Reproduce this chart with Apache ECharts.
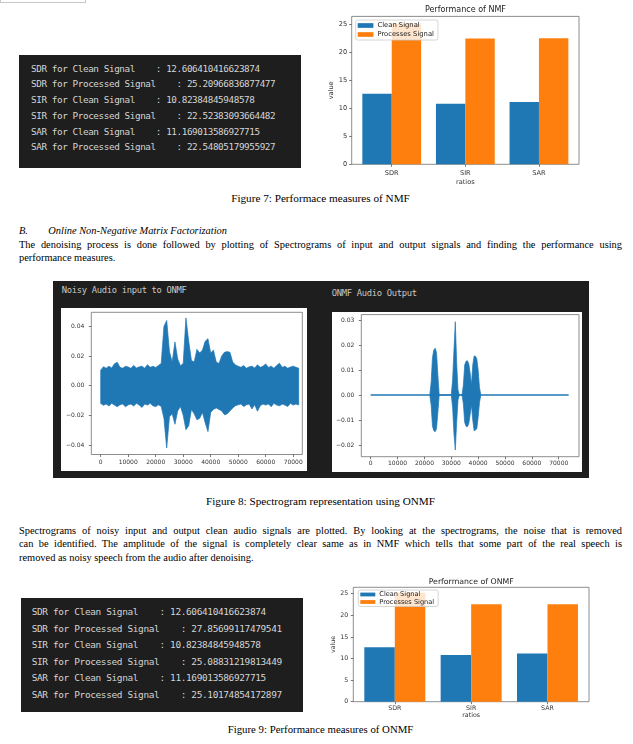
<!DOCTYPE html>
<html>
<head>
<meta charset="utf-8">
<script src="https://cdn.jsdelivr.net/npm/echarts@6/dist/echarts.min.js"></script>
<style>
html,body{margin:0;padding:0;background:#fff;}
#page{position:relative;width:633px;height:744px;overflow:hidden;background:#fff;}
.abs{position:absolute;}
.term{background:#1e1e1e;color:#d4d4d4;font-family:'DejaVu Sans Mono',monospace;white-space:pre;box-sizing:border-box;}
.serif{font-family:'Liberation Serif','Times New Roman',serif;color:#000;}
.cap{left:19px;width:603px;text-align:center;line-height:14px;white-space:nowrap;}
.jl{text-align:justify;text-align-last:justify;}
#chart{position:absolute;left:0;top:0;width:633px;height:744px;z-index:5;}
</style>
</head>
<body>
<div id="page">
  <div class="abs" style="left:0;top:0;width:84px;height:2px;border:1px solid #c8c8c8;border-top:none;"></div>
  <div id="term1" class="abs term" style="left:19px;top:55px;width:282px;height:113px;padding:5.5px 0 0 12px;font-size:9.3px;letter-spacing:-0.4px;line-height:15.8px;"></div>
  <div class="abs serif cap" style="top:191px;font-size:11.2px;">Figure 7: Performace measures of NMF</div>
  <div class="abs serif" style="left:19px;top:224px;width:603px;font-size:10.4px;line-height:13.7px;">
    <div><i>B.</i><i style="position:absolute;left:29.3px;">Online Non-Negative Matrix Factorization</i></div>
    <div class="jl">The denoising process is done followed by plotting of Spectrograms of input and output signals and finding the performance using</div>
    <div>performance measures.</div>
  </div>
  <div class="abs" style="left:53px;top:281px;width:536px;height:197px;background:#1e1e1e;"></div>
  <div class="abs term" style="left:61.7px;top:284px;font-size:8.8px;letter-spacing:-0.3px;line-height:12px;background:none;color:#c8c8c8;">Noisy Audio input to ONMF</div>
  <div class="abs term" style="left:331.7px;top:287.3px;font-size:8.8px;letter-spacing:-0.3px;line-height:12px;background:none;color:#c8c8c8;">ONMF Audio Output</div>
  <div class="abs" style="left:61px;top:308px;width:245.7px;height:162.7px;background:#fff;"></div>
  <div class="abs" style="left:332.3px;top:311.7px;width:249.4px;height:160.6px;background:#fff;"></div>
  <div class="abs serif cap" style="top:494px;font-size:11.2px;">Figure 8: Spectrogram representation using ONMF</div>
  <div class="abs serif" style="left:19px;top:523.8px;width:603px;font-size:10.4px;line-height:13.4px;">
    <div class="jl">Spectrograms of noisy input and output clean audio signals are plotted. By looking at the spectrograms, the noise that is removed</div>
    <div class="jl">can be identified. The amplitude of the signal is completely clear same as in NMF which tells that some part of the real speech is</div>
    <div>removed as noisy speech from the audio after denoising.</div>
  </div>
  <div id="term2" class="abs term" style="left:21px;top:598.3px;width:281.7px;height:113.4px;padding:6.2px 0 0 10.7px;font-size:9.45px;letter-spacing:-0.36px;line-height:16.4px;"></div>
  <div class="abs serif cap" style="top:722.3px;font-size:10.8px;">Figure 9: Performance measures of ONMF</div>
  <div id="chart"></div>
</div>
<script>
// ---------------- data ----------------
const ratios = ['SDR', 'SIR', 'SAR'];
const seriesNames = ['Clean Signal', 'Processes Signal'];
// values printed in the NMF terminal box
const nmfCleanText = ['12.606410416623874', '10.82384845948578', '11.169013586927715'];
const nmfProcessedText = ['25.20966836877477', '22.52383093664482', '22.54805179955927'];
// values printed in the ONMF terminal box
const onmfCleanText = ['12.606410416623874', '10.82384845948578', '11.169013586927715'];
const onmfProcessedText = ['27.85699117479541', '25.08831219813449', '25.10174854172897'];
// bar heights (NMF chart)
const nmfClean = [12.606, 10.824, 11.169];
const nmfProcessed = [25.210, 22.524, 22.548];
// bar heights
const onmfClean = [12.606, 10.824, 11.169];
const onmfProcessed = [25.210, 22.524, 22.548];
const barValueTicks = [0, 5, 10, 15, 20, 25];
const barCategoryTicks = [0, 1, 2];

// noisy input waveform envelope (one value per 1000 samples, 0..72000)
const noisyStart = 0, noisyStep = 1000;
const noisyUpper = [
  0.0105, 0.0128, 0.0118, 0.0132, 0.0119, 0.0148, 0.0158, 0.0124, 0.0118, 0.0131,
  0.0126, 0.0117, 0.0137, 0.0119, 0.0127, 0.0132, 0.0118, 0.0142, 0.0124, 0.0131,
  0.0123, 0.0137, 0.0150, 0.0400, 0.0440, 0.0230, 0.0160, 0.0295, 0.0180, 0.0135,
  0.0150, 0.0457, 0.0300, 0.0170, 0.0160, 0.0245, 0.0220, 0.0240, 0.0300, 0.0317,
  0.0220, 0.0240, 0.0160, 0.0150, 0.0200, 0.0225, 0.0230, 0.0225, 0.0160, 0.0140,
  0.0131, 0.0124, 0.0136, 0.0118, 0.0127, 0.0132, 0.0119, 0.0141, 0.0124, 0.0131,
  0.0147, 0.0123, 0.0132, 0.0118, 0.0137, 0.0152, 0.0124, 0.0131, 0.0118, 0.0126,
  0.0132, 0.0124, 0.0118
];
const noisyLower = [
  -0.0120, -0.0132, -0.0124, -0.0137, -0.0119, -0.0131, -0.0142, -0.0129, -0.0124, -0.0142,
  -0.0129, -0.0124, -0.0137, -0.0119, -0.0131, -0.0147, -0.0124, -0.0131, -0.0119, -0.0136,
  -0.0141, -0.0129, -0.0140, -0.0220, -0.0420, -0.0210, -0.0190, -0.0260, -0.0170, -0.0140,
  -0.0200, -0.0297, -0.0270, -0.0160, -0.0190, -0.0230, -0.0220, -0.0180, -0.0250, -0.0310,
  -0.0180, -0.0160, -0.0150, -0.0160, -0.0170, -0.0196, -0.0190, -0.0170, -0.0150, -0.0135,
  -0.0129, -0.0124, -0.0141, -0.0129, -0.0124, -0.0157, -0.0129, -0.0172, -0.0136, -0.0124,
  -0.0131, -0.0123, -0.0142, -0.0119, -0.0131, -0.0136, -0.0124, -0.0131, -0.0141, -0.0119,
  -0.0131, -0.0124, -0.0130
];

// ONMF output waveform: speech bursts envelope (one value per 500 samples, 22000..41000)
const outBurstStart = 22000, outBurstStep = 500;
const outUpper = [
  0, 0.0050, 0.0150, 0.0180, 0.0187, 0.0170, 0.0080, 0,
  0, 0, 0, 0, 0, 0, 0, 0, 0,
  0.0060, 0.0180, 0.0293, 0.0130, 0.0020,
  0, 0, 0,
  0.0040, 0.0120, 0.0135, 0.0137, 0.0125, 0.0090, 0.0040,
  0.0120, 0.0156, 0.0155, 0.0145, 0.0100, 0.0030, 0
];
const outLower = [
  0, -0.0040, -0.0125, -0.0143, -0.0147, -0.0135, -0.0070, 0,
  0, 0, 0, 0, 0, 0, 0, 0, 0,
  -0.0050, -0.0155, -0.0220, -0.0110, -0.0020,
  0, 0, 0,
  -0.0035, -0.0110, -0.0125, -0.0127, -0.0115, -0.0080, -0.0040,
  -0.0100, -0.0143, -0.0140, -0.0135, -0.0090, -0.0030, 0
];
const outLength = 73700;

const sampleTicks = [0, 10000, 20000, 30000, 40000, 50000, 60000, 70000];
const noisyTicks = [-0.04, -0.02, 0, 0.02, 0.04];
const outTicks = [-0.02, -0.01, 0, 0.01, 0.02, 0.03];

// ---------------- terminal text ----------------
function termLines(cleanArr, procArr) {
  const out = [];
  ratios.forEach((r, i) => {
    out.push(r + ' for Clean Signal    : ' + cleanArr[i]);
    out.push(r + ' for Processed Signal    : ' + procArr[i]);
  });
  return out.map(s => '<div>' + s + '</div>').join('');
}
document.getElementById('term1').innerHTML = termLines(nmfCleanText, nmfProcessedText);
document.getElementById('term2').innerHTML = termLines(onmfCleanText, onmfProcessedText);

// ---------------- chart ----------------
const BLUE = '#1f77b4', ORANGE = '#ff7f0e';
const FONT = 'DejaVu Sans';
const chart = echarts.init(document.getElementById('chart'), null, {renderer: 'canvas'});

const waveFmt = v => Math.abs(v) < 1e-9 ? '0.00' : (v < 0 ? '\u2212' : '') + Math.abs(v).toFixed(2);

function gridCfg(left, top, width, height) {
  return {left, top, width, height, show: true, borderColor: '#707070', borderWidth: 0.8,
          backgroundColor: 'rgba(0,0,0,0)', containLabel: false};
}
function valAxis(gi, min, max, ticks, fmt, fs, margin, extra) {
  return Object.assign({
    gridIndex: gi, type: 'value', min, max,
    axisLine: {show: false, onZero: false}, splitLine: {show: false},
    axisTick: {show: true, length: 2.5, customValues: ticks, lineStyle: {color: '#555', width: 0.8}},
    axisLabel: {customValues: ticks, formatter: fmt, fontSize: fs, fontFamily: FONT, color: '#333', margin}
  }, extra || {});
}

// one filled polygon: upper envelope left->right, lower envelope right->left
function bandSeries(xi, yi, x0, step, up, lo) {
  const data = up.map((u, i) => [x0 + i * step, u, lo[i]]);
  return {
    type: 'custom', xAxisIndex: xi, yAxisIndex: yi, data, silent: true, clip: true,
    encode: {x: 0, y: [1, 2]},
    renderItem(params, api) {
      if (params.dataIndex !== 0) return {type: 'group', children: []};
      const top = data.map(d => api.coord([d[0], d[1]]));
      const bot = data.map(d => api.coord([d[0], d[2]])).reverse();
      return {type: 'polygon', shape: {points: top.concat(bot)},
              style: {fill: BLUE, stroke: BLUE, lineWidth: 0.7, lineJoin: 'miter'}};
    }
  };
}

const catFmt = v => ratios[Math.round(v)];

const option = {
  backgroundColor: 'rgba(0,0,0,0)',
  animation: false,
  textStyle: {fontFamily: FONT},
  grid: [
    gridCfg(351.7, 16.4, 227.3, 147.9),
    gridCfg(91.3, 312.3, 211, 142.2),
    gridCfg(361.3, 314.6, 217.7, 142.1),
    gridCfg(353.3, 587.3, 235.7, 114.4)
  ],
  xAxis: [
    valAxis(0, -0.544, 2.544, barCategoryTicks, catFmt, 6.6, 5, {name: 'ratios', nameLocation: 'middle', nameGap: 14,
      nameTextStyle: {fontSize: 6.6, fontFamily: FONT, color: '#333'}}),
    valAxis(1, -3420, 73310, sampleTicks, v => String(v), 6, 4.5),
    valAxis(2, -3500, 77550, sampleTicks, v => String(v), 6, 4),
    valAxis(3, -0.544, 2.544, barCategoryTicks, catFmt, 6.3, 4, {name: 'ratios', nameLocation: 'middle', nameGap: 10.5,
      nameTextStyle: {fontSize: 6.3, fontFamily: FONT, color: '#333'}})
  ],
  yAxis: [
    valAxis(0, 0, 26.47, barValueTicks, v => String(v), 6.6, 4.5, {name: 'value', nameLocation: 'middle', nameGap: 16.5,
      nameTextStyle: {fontSize: 6.6, fontFamily: FONT, color: '#333'}}),
    valAxis(1, -0.04641, 0.04951, noisyTicks, waveFmt, 6, 7),
    valAxis(2, -0.02468, 0.03216, outTicks, waveFmt, 6, 7),
    valAxis(3, 0, 26.47, barValueTicks, v => String(v), 6.3, 5, {name: 'value', nameLocation: 'middle', nameGap: 17,
      nameTextStyle: {fontSize: 6.3, fontFamily: FONT, color: '#333'}})
  ],
  legend: [
    {data: seriesNames, orient: 'vertical', left: 355.7, top: 20, icon: 'rect', itemWidth: 15.7, itemHeight: 4.7,
     itemGap: 2, padding: [2, 4, 2, 2], backgroundColor: 'rgba(255,255,255,0.8)', borderColor: '#cccccc',
     borderWidth: 0.8, borderRadius: 2, selectedMode: false,
     textStyle: {fontSize: 6.8, fontFamily: FONT, color: '#222', padding: [0, 0, 0, -1]}},
    {data: seriesNames, orient: 'vertical', left: 358.3, top: 590, icon: 'rect', itemWidth: 15, itemHeight: 3.8,
     itemGap: 0.5, padding: [1, 4, 1, 2], backgroundColor: 'rgba(255,255,255,0.8)', borderColor: '#cccccc',
     borderWidth: 0.8, borderRadius: 2, selectedMode: false,
     textStyle: {fontSize: 6.6, fontFamily: FONT, color: '#222', padding: [0, 0, 0, -1]}}
  ],
  graphic: [
    {type: 'text', x: 465.4, y: 10, silent: true,
     style: {text: 'Performance of NMF', align: 'center', verticalAlign: 'middle', fontSize: 8, fontFamily: FONT, fill: '#222'}},
    {type: 'text', x: 471.2, y: 582.3, silent: true,
     style: {text: 'Performance of ONMF', align: 'center', verticalAlign: 'middle', fontSize: 7.8, fontFamily: FONT, fill: '#222'}}
  ],
  series: [
    {type: 'bar', name: seriesNames[0], xAxisIndex: 0, yAxisIndex: 0, data: nmfClean.map((v, i) => [i, v]),
     barWidth: 29.4, barGap: '0%', itemStyle: {color: BLUE}},
    {type: 'bar', name: seriesNames[1], xAxisIndex: 0, yAxisIndex: 0, data: nmfProcessed.map((v, i) => [i, v]),
     barWidth: 29.4, barGap: '0%', itemStyle: {color: ORANGE}},
    bandSeries(1, 1, noisyStart, noisyStep, noisyUpper, noisyLower),
    {type: 'line', xAxisIndex: 2, yAxisIndex: 2, data: [[0, 0], [outLength, 0]], symbol: 'none', silent: true,
     lineStyle: {color: BLUE, width: 1.5}},
    bandSeries(2, 2, outBurstStart, outBurstStep, outUpper, outLower),
    {type: 'bar', name: seriesNames[0], xAxisIndex: 3, yAxisIndex: 3, data: onmfClean.map((v, i) => [i, v]),
     barWidth: 30.5, barGap: '0%', itemStyle: {color: BLUE}},
    {type: 'bar', name: seriesNames[1], xAxisIndex: 3, yAxisIndex: 3, data: onmfProcessed.map((v, i) => [i, v]),
     barWidth: 30.5, barGap: '0%', itemStyle: {color: ORANGE}}
  ]
};
chart.setOption(option);
</script>
</body>
</html>
